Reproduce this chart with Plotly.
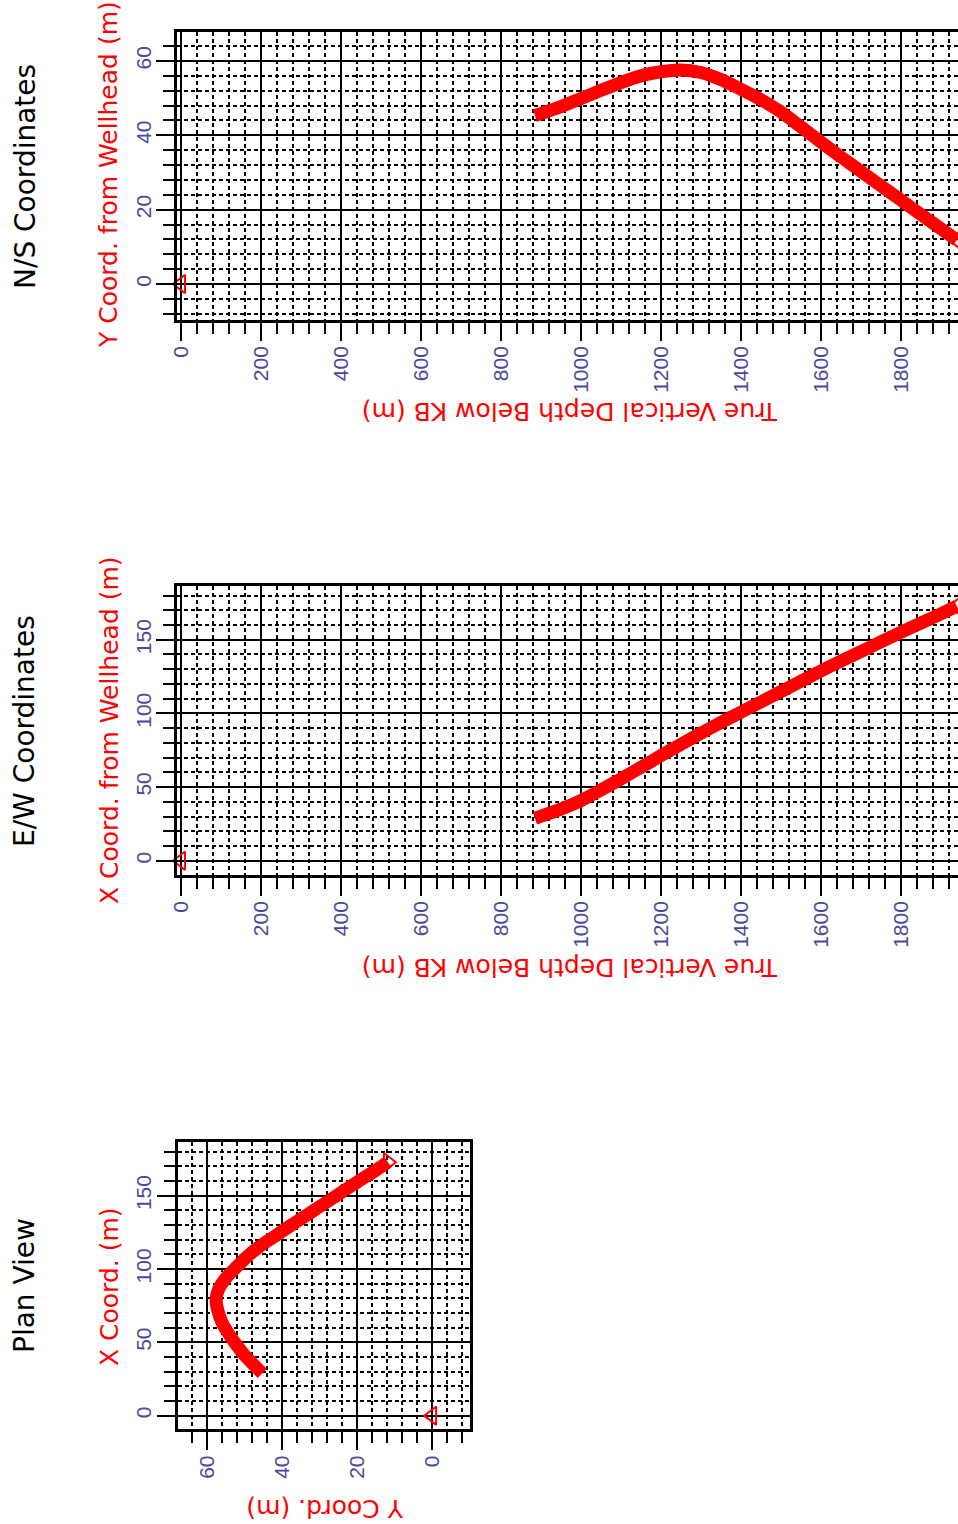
import plotly.graph_objects as go

# Survey stations along the deviated section (true vertical depth, m)
tvd = [885, 950, 1000, 1050, 1100, 1150, 1200, 1250, 1300, 1350, 1400,
       1450, 1500, 1550, 1600, 1650, 1700, 1750, 1800, 1850, 1900, 1940]
# North/South offset from wellhead (m)
ns_coord = [45.3, 47.7, 49.9, 52.1, 54.2, 56.0, 57.1, 57.6, 56.9, 55.0, 52.4,
            49.6, 46.3, 42.3, 38.2, 34.2, 30.3, 26.4, 22.6, 18.7, 14.9, 11.8]
# East/West offset from wellhead (m)
ew_coord = [28.8, 35.0, 40.8, 48.0, 55.5, 63.3, 71.3, 79.0, 86.5, 93.8, 100.8,
            107.8, 114.8, 121.8, 128.8, 135.5, 142.0, 148.5, 155.0, 161.3, 167.5, 172.8]
# Wellhead location
wellhead_tvd = [0]
wellhead_ns = [0]
wellhead_ew = [0]

W, H = 958, 1524
RED = "#ff0000"
TICK_COLOR = "#4a4a9c"
TICK_FONT = dict(family="Liberation Sans", size=21, color=TICK_COLOR)
TITLE_FONT = dict(family="DejaVu Sans", size=25, color=RED)
PANEL_FONT = dict(family="DejaVu Sans", size=28, color="black")


def px_x(p):
    return p / W


def px_y(p):
    return 1 - p / H


def axis_style(dtick, minor_dtick, rng, domain, mirror=True, **kw):
    d = dict(
        range=rng, domain=domain, tick0=0, dtick=dtick, automargin=False,
        showline=True, linecolor="black", linewidth=2.5, mirror=mirror,
        ticks="outside", ticklen=18, tickwidth=2, tickcolor="black",
        tickangle=-90, tickfont=TICK_FONT, ticklabelstandoff=-3,
        showgrid=True, gridcolor="black", gridwidth=2,
        zeroline=False,
        minor=dict(dtick=minor_dtick, tick0=0, ticks="outside", ticklen=11,
                   tickwidth=2, tickcolor="black", showgrid=True,
                   gridcolor="black", gridwidth=2, griddash="4px,3px"),
    )
    d.update(kw)
    return d


line_style = dict(color=RED, width=13, shape="spline", smoothing=0.8)
tri_left = dict(symbol="triangle-left-open", size=16, color=RED,
                line=dict(color=RED, width=2))
tri_right = dict(symbol="triangle-right-open", size=16, color=RED,
                 line=dict(color=RED, width=2))

fig = go.Figure()

# N/S coordinates vs depth
fig.add_trace(go.Scatter(x=tvd, y=ns_coord, mode="lines", line=line_style,
                         xaxis="x", yaxis="y", showlegend=False))
fig.add_trace(go.Scatter(x=wellhead_tvd, y=wellhead_ns, mode="markers",
                         marker=tri_left, xaxis="x", yaxis="y",
                         showlegend=False, cliponaxis=False))
fig.add_trace(go.Scatter(x=tvd[-1:], y=ns_coord[-1:], mode="markers",
                         marker=tri_left, xaxis="x", yaxis="y",
                         showlegend=False))

# E/W coordinates vs depth
fig.add_trace(go.Scatter(x=tvd, y=ew_coord, mode="lines", line=line_style,
                         xaxis="x2", yaxis="y2", showlegend=False))
fig.add_trace(go.Scatter(x=wellhead_tvd, y=wellhead_ew, mode="markers",
                         marker=tri_left, xaxis="x2", yaxis="y2",
                         showlegend=False, cliponaxis=False))
fig.add_trace(go.Scatter(x=tvd[-1:], y=ew_coord[-1:], mode="markers",
                         marker=tri_left, xaxis="x2", yaxis="y2",
                         showlegend=False))

# Plan view: Y (N/S) horizontal, X (E/W) vertical
fig.add_trace(go.Scatter(x=ns_coord, y=ew_coord, mode="lines", line=line_style,
                         xaxis="x3", yaxis="y3", showlegend=False))
fig.add_trace(go.Scatter(x=wellhead_ns, y=wellhead_ew, mode="markers",
                         marker=tri_left, xaxis="x3", yaxis="y3",
                         showlegend=False))
fig.add_trace(go.Scatter(x=ns_coord[-1:], y=ew_coord[-1:], mode="markers",
                         marker=tri_right, xaxis="x3", yaxis="y3",
                         showlegend=False))

tvd_domain = [px_x(177), 1.0]

fig.update_layout(
    width=W, height=H,
    margin=dict(l=0, r=0, t=0, b=0, pad=0),
    paper_bgcolor="white", plot_bgcolor="white",
    xaxis=axis_style(200, 40, [-10, 1943], tvd_domain, mirror=True, anchor="y"),
    yaxis=axis_style(20, 4, [-9.7, 67.8], [px_y(320), px_y(32)], mirror=False, anchor="x"),
    xaxis2=axis_style(200, 40, [-10, 1943], tvd_domain, mirror=True, anchor="y2"),
    yaxis2=axis_style(50, 10, [-9.7, 186.7], [px_y(875), px_y(585.7)], mirror=False, anchor="x2"),
    xaxis3=axis_style(20, 4, [67.9, -10.1], [px_x(177.5), px_x(470)], mirror=True, anchor="y3"),
    yaxis3=axis_style(50, 10, [-9.3, 186.8], [px_y(1429.3), px_y(1141.7)], mirror=True, anchor="x3"),
)

annotations = [
    # panel titles
    dict(text="N/S Coordinates", x=25, y=177, angle=-90, font=PANEL_FONT),
    dict(text="E/W Coordinates", x=25, y=731, angle=-90, font=PANEL_FONT),
    dict(text="Plan View", x=24, y=1286, angle=-90, font=PANEL_FONT),
    # axis titles
    dict(text="Y Coord. from Wellhead (m)", x=109, y=175, angle=-90, font=TITLE_FONT),
    dict(text="True Vertical Depth Below KB (m)", x=570, y=412, angle=180, font=TITLE_FONT),
    dict(text="X Coord. from Wellhead (m)", x=109, y=730, angle=-90, font=TITLE_FONT),
    dict(text="True Vertical Depth Below KB (m)", x=570, y=968, angle=180, font=TITLE_FONT),
    dict(text="X Coord. (m)", x=109, y=1287, angle=-90, font=TITLE_FONT),
    dict(text="Y Coord. (m)", x=325, y=1509, angle=180, font=TITLE_FONT),
]
for a in annotations:
    fig.add_annotation(text=a["text"], x=px_x(a["x"]), y=px_y(a["y"]),
                       xref="paper", yref="paper", xanchor="center", yanchor="middle",
                       textangle=a["angle"], showarrow=False, font=a["font"])

fig.write_html("out.html")
